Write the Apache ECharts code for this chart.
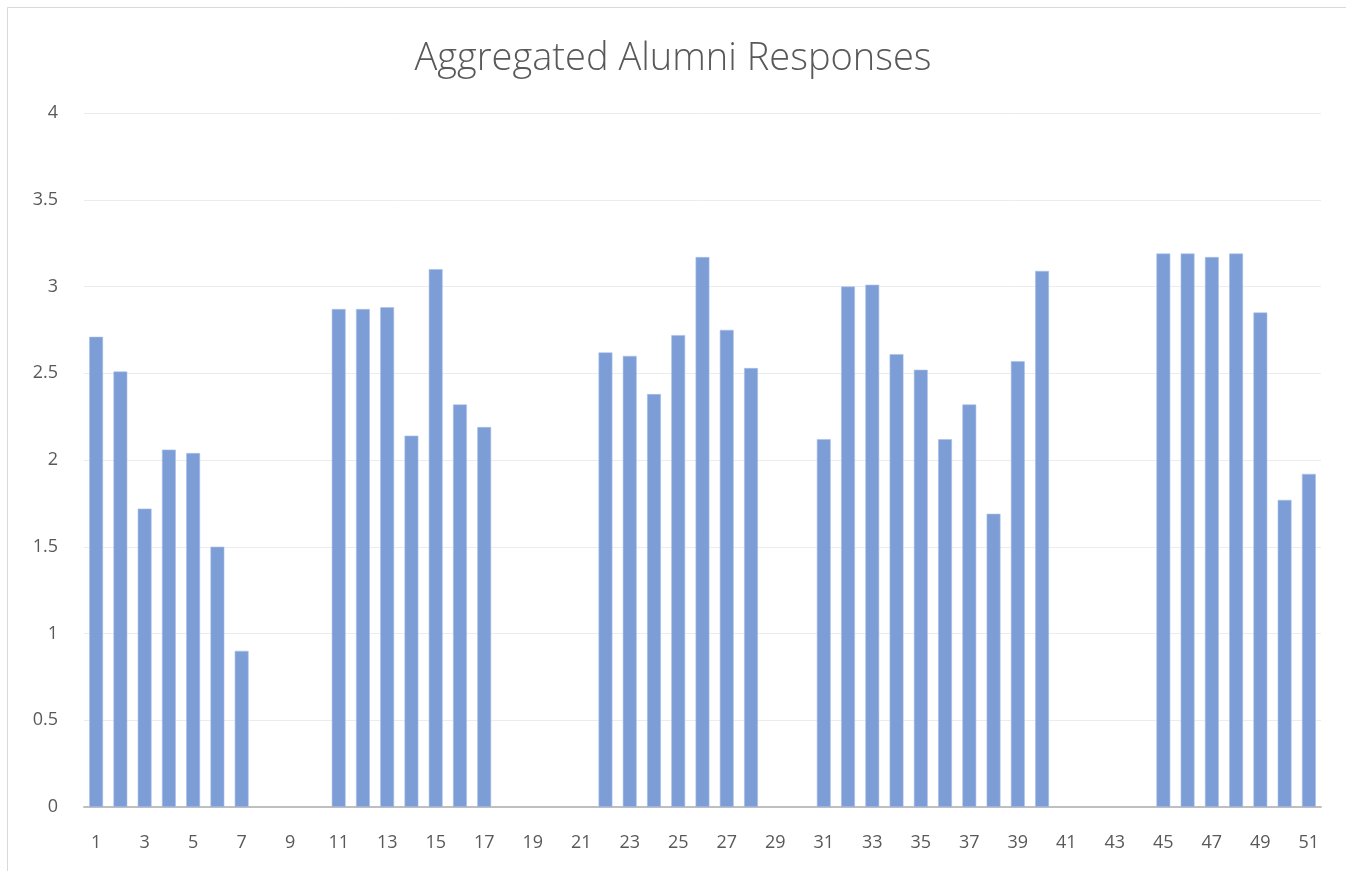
<!DOCTYPE html>
<html style="height: 100%">
   <head>
       <meta charset="utf-8">
   </head>
   <body style="height: 100%; margin: 0; background: #fff">
       <div id="container" style="width: 1346px; height: 871px"></div>
       <script type="text/javascript" src="https://cdn.jsdelivr.net/npm/echarts@6/dist/echarts.min.js"></script>
       <script type="text/javascript">
// question numbers 1..51
var categories = [];
for (var i = 1; i <= 51; i++) categories.push(String(i));

// aggregated response per question (empty ones have no bar)
var responses = [
    2.71, 2.51, 1.72, 2.06, 2.04, 1.50, 0.90, null, null, null,
    2.87, 2.87, 2.88, 2.14, 3.10, 2.32, 2.19, null, null, null,
    null, 2.62, 2.60, 2.38, 2.72, 3.17, 2.75, 2.53, null, null,
    2.12, 3.00, 3.01, 2.61, 2.52, 2.12, 2.32, 1.69, 2.57, 3.09,
    null, null, null, null, 3.19, 3.19, 3.17, 3.19, 2.85, 1.77,
    1.92
];

var yTicks = { min: 0, max: 4, step: 0.5 };

var dom = document.getElementById("container");
var myChart = echarts.init(dom);
var option = {
    animation: false,
    title: {
        text: 'Aggregated Alumni Responses',
        left: 'center',
        top: 35,
        textStyle: {
            fontFamily: 'Open Sans',
            fontWeight: 300,
            fontSize: 38,
            color: '#595959'
        }
    },
    graphic: [{
        type: 'rect',
        shape: { x: 7.5, y: 7.5, width: 1400, height: 900 },
        style: { fill: 'none', stroke: '#d9d9d9', lineWidth: 1 },
        silent: true
    }],
    grid: {
        left: 84,
        right: 25,
        top: 113,
        bottom: 64
    },
    xAxis: {
        type: 'category',
        data: categories,
        axisTick: { show: false },
        axisLine: { lineStyle: { color: '#bfbfbf', width: 2 } },
        axisLabel: {
            interval: 1,
            margin: 27,
            fontSize: 18,
            fontFamily: 'Open Sans',
            color: '#595959'
        }
    },
    yAxis: {
        type: 'value',
        min: yTicks.min,
        max: yTicks.max,
        interval: yTicks.step,
        axisLine: { show: false },
        axisTick: { show: false },
        splitLine: { lineStyle: { color: '#ececec', width: 1 } },
        axisLabel: {
            margin: 26,
            fontSize: 18,
            fontFamily: 'Open Sans',
            color: '#595959'
        }
    },
    series: [{
        type: 'bar',
        data: responses,
        barCategoryGap: '43%',
        itemStyle: {
            color: '#7c9dd6',
            borderColor: '#a9c0e8',
            borderWidth: 0.6
        }
    }]
};
myChart.setOption(option);
       </script>
   </body>
</html>
